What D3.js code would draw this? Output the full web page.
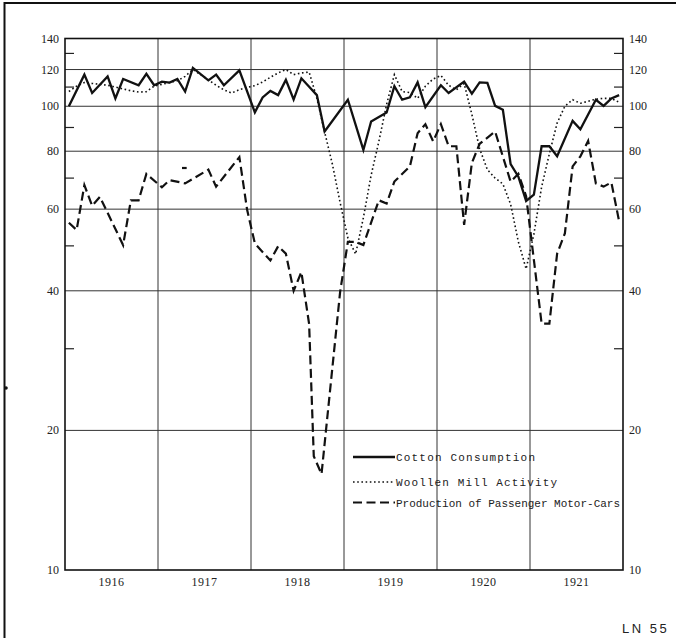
<!DOCTYPE html>
<html>
<head>
<meta charset="utf-8">
<script src="https://cdn.jsdelivr.net/npm/d3@7"></script>
<style>
body{margin:0;background:#fff;}
</style>
</head>
<body>
<script>
(function(){

//month index: 0 = January 1916, 71 = December 1921
var cottonMonths = [0,2,3,5,6,7,9,10,11,12,13,14,15,16,18,19,20,22,24,25,26,27,28,29,30,32,33,36,38,39,41,42,43,44,45,46,48,49,51,52,53,54,55,56,57,58,59,60,61,62,63,65,66,68,69,70,71];
var cottonValues = [100,117,106.8,116,104,114.5,111,117.5,111,113,112.5,114.5,107.6,121,113.7,117,111,119.5,97,104.5,107.9,105.7,114,103.4,114.9,105.7,88.2,103.3,80.5,92.7,96.9,110.5,103.3,104.5,112.6,99.6,111,106.8,113,106.5,112.6,112.3,100.2,98.3,75,70.5,62.5,64.5,82,82,78,93,89.2,103.3,100.2,104,105.7];

//woollen mill activity, one value per month
var woolenValues = [
	107.6,110.5,112.5,112,111.5,111,110,109,108,107.3,107.5,110.5,
	111.5,112.5,113.5,116,120,117,114,111,108.5,106.8,108.6,109.8,
	110.8,112.8,115.5,118,120,117,118,118.5,104,88,75,62,
	52,48,57.5,71,84,101,117,107.6,107,104,110.5,114.5,
	116.5,111,108.5,112,96,81,73,70,68,61.5,51,44.6,
	53,67,79,92,100,103.3,101.5,102.5,103.6,104,104,102];

var motorMonths = [0,1,2,3,4,7,8,9,10,12,13,15,18,19,22,23,24,26,27,28,29,30,31,31.6,32.6,35,36,37,38,40,41,42,44,45,46,47,48,49,50,51,52,53,55,57,58,59,61,62,63,64,65,66,67,68,69,70,71];
var motorValues = [56.1,54.1,67.6,61,63.8,50.2,62.7,62.7,71.5,66.9,69.3,68.2,73,67.1,77.7,59.8,50.6,46.5,49.9,48.1,40,43.9,33.9,17.6,16.1,39.8,51,51,50.2,62.7,61.7,68.8,74.2,87.5,91.5,84,91.5,82,82,55.5,75.5,83,88.2,68.8,71.5,64,34,34,48.1,53.2,74.2,78,84.2,68.2,67.1,68.5,56.5];

//stray dash sitting above the motor-car line early in 1917
var strayMonths = [14.6, 15.2];
var strayValues = [73.6, 73.6];

var years = ["1916","1917","1918","1919","1920","1921"];
var yLabels = [10,20,40,60,80,100,120,140];
var yGrid = [20,40,60,80,100,120];
var yMinor = [30,50,70,90,110,130];
var legendNames = ["Cotton Consumption","Woollen Mill Activity","Production of Passenger Motor-Cars"];
var noteText = "LN 55";

var width = 676,
	height = 638,
	left = 65,
	right = 623,
	top = 38.5,
	bottom = 570;

var svg = d3.select("body")
	.append("svg")
	.attr("width", width)
	.attr("height", height);

var x = d3.scaleLinear()
	.domain([0, 72])
	.range([left, right]);

var y = d3.scaleLog()
	.domain([10, 140])
	.range([bottom, top]);

//outer frame (left and top edges only show in the picture)
svg.append("path")
	.attr("d", "M4.5," + height + "V3H" + width)
	.attr("fill", "none")
	.attr("stroke", "#111")
	.attr("stroke-width", 2);

svg.append("circle")
	.attr("cx", 6)
	.attr("cy", 388)
	.attr("r", 1.8)
	.attr("fill", "#111");

//horizontal grid
svg.selectAll(".hgrid")
	.data(yGrid)
	.enter()
	.append("line")
	.attr("class", "hgrid")
	.attr("x1", left)
	.attr("x2", right)
	.attr("y1", function(d){ return y(d); })
	.attr("y2", function(d){ return y(d); })
	.attr("stroke", "#333")
	.attr("stroke-width", 1);

//vertical grid at each new year
svg.selectAll(".vgrid")
	.data(years.slice(1))
	.enter()
	.append("line")
	.attr("class", "vgrid")
	.attr("x1", function(d, i){ return x((i + 1) * 12); })
	.attr("x2", function(d, i){ return x((i + 1) * 12); })
	.attr("y1", top)
	.attr("y2", bottom)
	.attr("stroke", "#333")
	.attr("stroke-width", 1);

//minor ticks pointing inward on both sides
[left, right].forEach(function(edge){
	var dir = edge == left ? 1 : -1;
	svg.selectAll(".minor" + edge)
		.data(yMinor)
		.enter()
		.append("line")
		.attr("x1", edge)
		.attr("x2", edge + dir * 9)
		.attr("y1", function(d){ return y(d); })
		.attr("y2", function(d){ return y(d); })
		.attr("stroke", "#222")
		.attr("stroke-width", 1.2);
});

//plot frame
svg.append("rect")
	.attr("x", left)
	.attr("y", top)
	.attr("width", right - left)
	.attr("height", bottom - top)
	.attr("fill", "none")
	.attr("stroke", "#111")
	.attr("stroke-width", 1.6);

//axis labels
svg.selectAll(".ylabL")
	.data(yLabels)
	.enter()
	.append("text")
	.attr("x", left - 6)
	.attr("y", function(d){ return y(d) + 4; })
	.attr("text-anchor", "end")
	.style("font", "12px 'Liberation Serif', serif")
	.attr("fill", "#222")
	.text(function(d){ return d; });

svg.selectAll(".ylabR")
	.data(yLabels)
	.enter()
	.append("text")
	.attr("x", right + 6)
	.attr("y", function(d){ return y(d) + 4; })
	.attr("text-anchor", "start")
	.style("font", "12px 'Liberation Serif', serif")
	.attr("fill", "#222")
	.text(function(d){ return d; });

svg.selectAll(".year")
	.data(years)
	.enter()
	.append("text")
	.attr("x", function(d, i){ return x(i * 12 + 6); })
	.attr("y", bottom + 16)
	.attr("text-anchor", "middle")
	.style("font", "12px 'Liberation Serif', serif")
	.style("letter-spacing", "0.5px")
	.attr("fill", "#222")
	.text(function(d){ return d; });

//series lines, points sit in the middle of each month
function makeLine(months, values){
	var pts = months.map(function(m, i){ return [m, values[i]]; });
	return d3.line()
		.x(function(d){ return x(d[0] + 0.5); })
		.y(function(d){ return y(d[1]); })(pts);
}

var woolenMonths = woolenValues.map(function(v, i){ return i; });

svg.append("path")
	.attr("d", makeLine(woolenMonths, woolenValues))
	.attr("fill", "none")
	.attr("stroke", "#111")
	.attr("stroke-width", 1.6)
	.attr("stroke-dasharray", "1.6,2.6");

svg.append("path")
	.attr("d", makeLine(motorMonths, motorValues))
	.attr("fill", "none")
	.attr("stroke", "#111")
	.attr("stroke-width", 2.2)
	.attr("stroke-dasharray", "9,4.5");

svg.append("path")
	.attr("d", makeLine(strayMonths, strayValues))
	.attr("fill", "none")
	.attr("stroke", "#111")
	.attr("stroke-width", 2.2);

svg.append("path")
	.attr("d", makeLine(cottonMonths, cottonValues))
	.attr("fill", "none")
	.attr("stroke", "#111")
	.attr("stroke-width", 2.3)
	.attr("stroke-linejoin", "miter");

//legend
var legendRows = [457, 482, 502.5],
	legendWidths = [139, 161, 224],
	legendDash = [null, "1.6,2.6", "9,4.5"],
	legendStroke = [2.3, 1.6, 2.2];

var legend = svg.selectAll(".legend")
	.data(legendNames)
	.enter()
	.append("g")
	.attr("class", "legend")
	.attr("transform", function(d, i){ return "translate(353," + legendRows[i] + ")"; });

legend.append("line")
	.attr("x1", 0)
	.attr("x2", 42)
	.attr("stroke", "#111")
	.attr("stroke-width", function(d, i){ return legendStroke[i]; })
	.attr("stroke-dasharray", function(d, i){ return legendDash[i]; });

legend.append("text")
	.attr("x", 43)
	.attr("y", 4)
	.attr("textLength", function(d, i){ return legendWidths[i]; })
	.attr("lengthAdjust", "spacing")
	.style("font", "11px 'Liberation Mono', monospace")
	.attr("fill", "#222")
	.text(function(d){ return d; });

svg.append("text")
	.attr("x", 622)
	.attr("y", 633)
	.style("font", "13px 'Liberation Sans', sans-serif")
	.style("letter-spacing", "2.5px")
	.attr("fill", "#222")
	.text(noteText);

})();
</script>
</body>
</html>
